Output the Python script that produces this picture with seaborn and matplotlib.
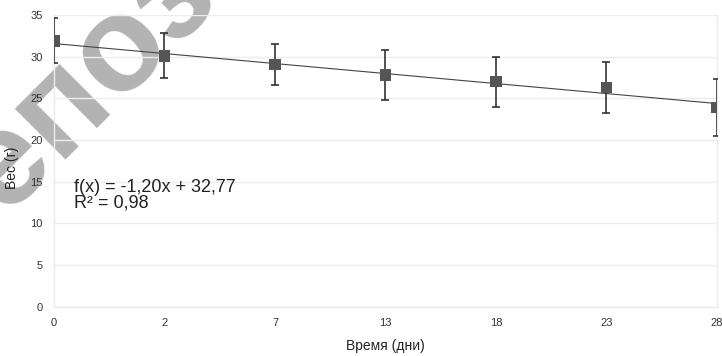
import matplotlib
matplotlib.use("Agg")
import matplotlib.pyplot as plt
import seaborn as sns
import numpy as np
import pandas as pd

days = ["0", "2", "7", "13", "18", "23", "28"]
weight = [31.9, 30.1, 29.05, 27.8, 27.0, 26.3, 23.9]
err = [2.7, 2.7, 2.5, 3.0, 3.0, 3.1, 3.45]
slope, intercept = -1.20, 32.77
eq_text = "f(x) = -1,20x + 32,77\nR² = 0,98"

sns.set_theme(style="whitegrid")
plt.rcParams['font.family'] = ['Liberation Sans', 'DejaVu Sans']

n = np.arange(1, len(days) + 1)
df = pd.DataFrame({"idx": n - 1, "w": weight, "e": err,
                   "trend": slope * n + intercept})

fig = plt.figure(figsize=(7.22, 3.56), dpi=100)
ax = fig.add_axes([0.0748, 0.1385, 0.9182, 0.8195])
ax.patch.set_alpha(0)

sns.lineplot(data=df, x="idx", y="trend", color="#444444", lw=0.8, ax=ax,
             zorder=2)
ax.errorbar(df["idx"], df["w"], yerr=df["e"], fmt="none", ecolor="#333333",
            elinewidth=1.2, capsize=3, capthick=1.2, zorder=3)
sns.scatterplot(data=df, x="idx", y="w", marker="s", s=70, color="#555555",
                edgecolor="none", ax=ax, zorder=4)

ax.set_xlim(0, 6)
ax.set_ylim(0, 35)
ax.set_xticks(range(len(days)))
ax.set_xticklabels(days)
ax.set_yticks(range(0, 36, 5))
ax.grid(axis="y", color="#ececec", lw=1)
ax.grid(axis="x", visible=False)
ax.spines["top"].set_visible(False)
for s in ["left", "right", "bottom"]:
    ax.spines[s].set_color("#ececec")
    ax.spines[s].set_linewidth(1)
ax.tick_params(axis="both", length=4, width=0.8, color="#dddddd",
               labelsize=8, labelcolor="#333333", pad=4)
ax.set_xlabel("Время (дни)", fontsize=10, color="#222222", labelpad=8)
ax.set_ylabel("Вес (г)", fontsize=10, color="#222222")
ax.yaxis.set_label_coords(-0.053, 0.475)

ax.text(0.18, 15.3, eq_text, fontsize=13, color="#222222", va="top",
        ha="left", linespacing=0.9)

fig.text(-0.08, 0.23, "Репозиторий", fontsize=98, fontweight="bold",
         color="#b3b3b3", rotation=45, rotation_mode="anchor", ha="left",
         va="baseline", transform=fig.transFigure, zorder=-1)

fig.savefig("out.png", dpi=100)
